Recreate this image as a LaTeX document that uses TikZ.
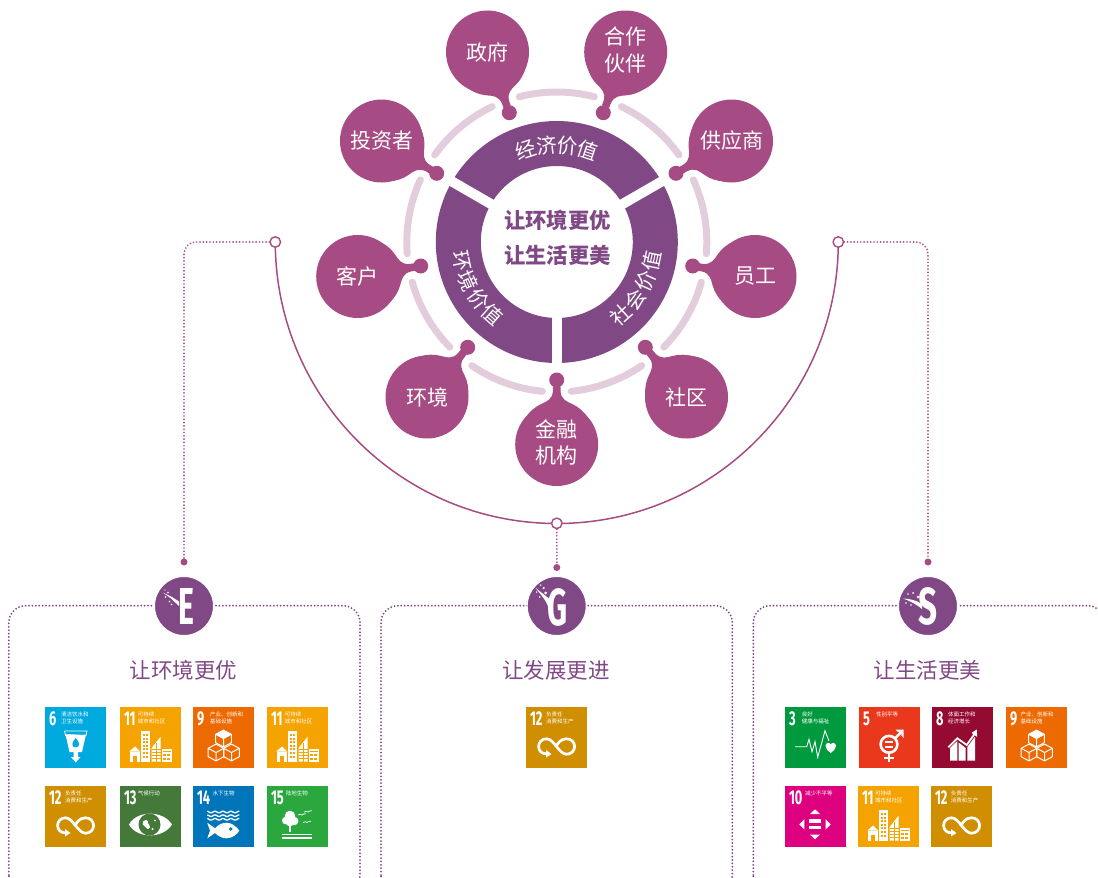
\documentclass[tikz,border=0pt]{standalone}
\usepackage{fontspec}
\setmainfont{Noto Sans CJK SC}
\newfontfamily\numfont{Fira Sans}
\usetikzlibrary{calc}
\definecolor{dropc}{HTML}{A64B83}
\definecolor{ringc}{HTML}{804885}
\definecolor{palec}{HTML}{E3CCDB}
\definecolor{tblue}{HTML}{00A9DE}
\definecolor{tamber}{HTML}{F5A300}
\definecolor{torange}{HTML}{ED6A02}
\definecolor{tgold}{HTML}{CF8F00}
\definecolor{tolive}{HTML}{44793A}
\definecolor{tsea}{HTML}{0075BA}
\definecolor{tgreen}{HTML}{2AA83E}
\definecolor{thealth}{HTML}{009A3E}
\definecolor{tred}{HTML}{E9381B}
\definecolor{twine}{HTML}{950A30}
\definecolor{tpink}{HTML}{DD007F}
\tikzset{
  dropnode/.style={circle,fill=dropc,minimum size=83pt,inner sep=0pt},
  droptext/.style={inner sep=0pt,text=white,align=center,font=\fontsize{21}{27}\selectfont},
  ballnode/.style={circle,fill=dropc,minimum size=15pt,inner sep=0pt},
  palearc/.style={draw=palec,line width=7pt,line cap=round},
  ringtext/.style={text=white,inner sep=0pt,font=\fontsize{20.5}{20}\selectfont},
  centertext/.style={text=ringc,inner sep=0pt,font=\fontsize{21.3}{21}\selectfont\bfseries},
  titletext/.style={text=ringc,inner sep=0pt,font=\fontsize{21.5}{22}\selectfont},
  opennode/.style={circle,draw=dropc,fill=white,line width=1.4pt,minimum size=10.5pt,inner sep=0pt},
  dotnode/.style={circle,fill=dropc,minimum size=7pt,inner sep=0pt},
  bigarc/.style={draw=dropc,line width=1.5pt},
  dotline/.style={draw=dropc,line width=1.9pt,line cap=round,dash pattern=on 0pt off 3.3pt},
  boxline/.style={draw=ringc,line width=2pt,line cap=round,dash pattern=on 0pt off 3.4pt,rounded corners=17pt},
  badge/.style={circle,fill=ringc,draw=white,line width=1pt,minimum size=59pt,inner sep=0pt,text=white},
  tilebox/.style={anchor=north west,minimum size=61pt,inner sep=0pt,outer sep=0pt},
  tilelabel/.style={anchor=north west,inner sep=0pt,text=white,align=left,font=\fontsize{5.5}{7.3}\selectfont},
  tilenum/.style={anchor=west,inner sep=0pt,text=white},
  ic/.style={fill=white,draw=none},
  icl/.style={draw=white,fill=none},
}
% tile: name, x, y, colour, number, label x, label, icon
\newcommand\tile[8]{%
  \node[tilebox,fill=#4] (#1) at (#2,#3) {};
  \begin{scope}[shift={(#2,#3)}]
    \node[tilenum] (#1num) at (3.8,11.6) {\scalebox{.64}[1]{\numfont\bfseries\fontsize{20}{20}\selectfont #5}};
    \node[tilelabel] (#1lab) at (#6,4.4) {#7};
    #8
  \end{scope}}
\newcommand\icwater[1]{%
  \draw[icl,line width=.8pt] (19.5,24) -- (42,24) -- (40.8,29);
  \draw[icl,line width=.8pt] (19.5,24) -- (20.7,29);
  \fill[ic] (20.5,27.5) .. controls (25,26.5) and (36,28.5) .. (41,27.5) -- (37,45) -- (33,45) -- (33,50) -- (35.5,50) -- (30.7,55.5) -- (26,50) -- (28.5,50) -- (28.5,45) -- (24.5,45) -- cycle;
  \fill[#1] (30.7,31) .. controls (28.5,34) and (27.3,35.5) .. (27.3,37.2) .. controls (27.3,41.5) and (34.1,41.5) .. (34.1,37.2) .. controls (34.1,35.5) and (33,34) .. (30.7,31) -- cycle;}
\newcommand\iccity[1]{%
  \fill[ic] (9.3,44.5) -- (15,39.5) -- (20.3,44.5) -- cycle;
  \fill[ic] (10,45.3) rectangle (20,54.7);
  \fill[#1] (13.3,49) rectangle (16.7,54.7);
  \fill[ic] (21,24) rectangle (30,54.7);
  \foreach \cx in {23,26.4}{\foreach \cy in {27,30.6,34.2,37.8,41.4,45,48.6}{\fill[#1] (\cx,\cy) rectangle ++(1.9,2);}}
  \fill[ic] (31.7,54.7) -- (31.7,41) -- (40.7,29.5) -- (40.7,54.7) -- cycle;
  \foreach \cy in {42,45,48,51}{\draw[#1,line width=.5pt] (31.7,\cy) -- (40.7,\cy);}
  \draw[#1,line width=.5pt] (36.2,36) -- (36.2,54.7);
  \fill[ic] (41.7,42) rectangle (51.7,54.7);
  \fill[#1] (42.7,44.3) rectangle (50.7,45);
  \foreach \cx in {43,47.3}{\foreach \cy in {46.5,50.5}{\fill[#1] (\cx,\cy) rectangle ++(3.1,2.6);}}}
\newcommand\oneCube[2]{%
  \draw[icl,line width=1pt,line join=round] (#1,#2-8.4) -- (#1+7.8,#2-4.2) -- (#1+7.8,#2+4.2) -- (#1,#2+8.4) -- (#1-7.8,#2+4.2) -- (#1-7.8,#2-4.2) -- cycle;
  \draw[icl,line width=1pt] (#1-7.8,#2-4.2) -- (#1,#2) -- (#1+7.8,#2-4.2) (#1,#2) -- (#1,#2+8.4);}
\newcommand\iccubes{%
  \oneCube{30.5}{31.5}\oneCube{23}{45.5}\oneCube{38.5}{45.5}
  \fill[ic] (30.5,23.1) -- (38.3,27.3) -- (30.5,31.5) -- (22.7,27.3) -- cycle;}
\newcommand\icloop{%
  \draw[icl,line width=2.7pt] (21,46.8) .. controls (16,47.2) and (12.6,44) .. (12.6,39.5) .. controls (12.6,35) and (16,31.8) .. (20.5,31.8) .. controls (28,31.8) and (33,47.2) .. (40.5,47.2) .. controls (45,47.2) and (48.6,44) .. (48.6,39.5) .. controls (48.6,35) and (45,31.8) .. (40.5,31.8) .. controls (34,31.8) and (31.5,37) .. (29.5,40.5);
  \fill[ic] (20,43) -- (25.5,47) -- (20,50.5) -- cycle;}
\newcommand\iceye[1]{%
  \fill[ic] (9,38.5) .. controls (17,24) and (43,24) .. (52,38.5) .. controls (43,53) and (17,53) .. cycle;
  \fill[#1] (29.5,38.5) circle[radius=11];
  \fill[ic] (23,35.5) .. controls (25.5,33) and (28.5,34) .. (28,37) .. controls (28,39) and (31,39) .. (30,41.5) .. controls (28.5,44) and (25.5,43) .. (25.5,41) .. controls (23,40) and (22,37.5) .. (23,35.5) -- cycle;
  \fill[ic] (32.5,43) circle[radius=1.2];
  \fill[ic] (35,34.5) circle[radius=.8];}
\newcommand\icfish[1]{%
  \foreach \wy in {26,29.7,33.3}{\draw[icl,line width=1.3pt] plot[domain=14.3:46.3,samples=41,smooth] (\x,{\wy+.8*sin(\x*45)});}
  \fill[ic] (14.3,36.7) -- (22,42.3) .. controls (26,38) and (30,36.7) .. (33.7,36.7) .. controls (39,36.7) and (44,41) .. (46.3,44.7) .. controls (44,48.5) and (39,52.3) .. (33.7,52.3) .. controls (30,52.3) and (26,51) .. (22,47) -- (14.3,52.3) -- (17,44.7) -- cycle;
  \fill[#1] (37.7,43) circle[radius=1.9];}
\newcommand\ictree{%
  \fill[ic] (23,30) circle[radius=5.3] (18.8,34.5) circle[radius=3.8] (27.3,35) circle[radius=4.2] (23,36) circle[radius=4.3];
  \fill[ic] (22.3,38) rectangle (24,45.8);
  \fill[ic] (15.3,47.8) rectangle (45.3,49.3);
  \fill[ic] (15.3,51) rectangle (45.3,52.5);
  \foreach \bx/\by in {35/29,41/26,40/36.5}{\draw[icl,line width=.7pt] (\bx-4,\by) .. controls (\bx-2,\by-1.5) and (\bx-1,\by-.5) .. (\bx,\by) .. controls (\bx+1,\by-1) and (\bx+2.5,\by-1.2) .. (\bx+4,\by-1.4);}}
\newcommand\icheart{%
  \draw[icl,line width=.9pt,line join=miter] (10,39.7) -- (21.7,39.7) -- (24,32.3) -- (27,44.7) -- (30,34.7) -- (32.7,50.3) -- (40,23.7) -- (44,34);
  \fill[ic] (45.7,46) .. controls (42,43) and (40.2,41) .. (40.5,38.5) .. controls (41,35.5) and (44.5,35) .. (45.7,37.5) .. controls (47,35) and (50.5,35.5) .. (51,38.5) .. controls (51.2,41) and (49.5,43) .. (45.7,46) -- cycle;}
\newcommand\icgender{%
  \draw[icl,line width=2.6pt] (30,37.3) circle[radius=8.4];
  \fill[ic] (25.6,33.7) rectangle (34.4,36);
  \fill[ic] (25.6,38.6) rectangle (34.4,40.9);
  \fill[ic] (28.7,46) rectangle (31.3,55);
  \fill[ic] (25,49.6) rectangle (35,52);
  \draw[icl,line width=2.4pt] (36,31.3) -- (42.5,24.8);
  \fill[ic] (36.5,22.7) -- (44.7,22.7) -- (44.7,31) -- (42.4,28.6) -- (42.4,25) -- (38.8,25) -- cycle;}
\newcommand\icgrowth[1]{%
  \fill[ic] (18,41) -- (25.3,34) -- (25.3,53.7) -- (18,53.7) -- cycle;
  \fill[ic] (26.6,35.5) -- (33.7,41) -- (33.7,53.7) -- (26.6,53.7) -- cycle;
  \fill[ic] (35.3,40) -- (43,29.5) -- (43,53.7) -- (35.3,53.7) -- cycle;
  \draw[#1,line width=2.6pt] (14,42) -- (25.3,31.3) -- (34.7,38) -- (45,24);
  \draw[icl,line width=1.8pt,line join=miter] (16.3,40.3) -- (25.3,31.3) -- (34.7,38) -- (42.5,27);
  \fill[ic] (44.8,22.5) -- (45.2,30) -- (39.5,25.8) -- cycle;}
\newcommand\icarrows{%
  \fill[ic] (30,23.3) -- (35,28) -- (25,28) -- cycle;
  \fill[ic] (30,53.3) -- (35,48.6) -- (25,48.6) -- cycle;
  \fill[ic] (14.3,38.3) -- (19.3,33.3) -- (19.3,43.3) -- cycle;
  \fill[ic] (45.7,38.3) -- (40.7,33.3) -- (40.7,43.3) -- cycle;
  \fill[ic] (24.3,33.3) rectangle (35.7,36.7);
  \fill[ic] (24.3,40) rectangle (35.7,43.3);}
\begin{document}
\begin{tikzpicture}[x=1pt,y=-1pt]
\useasboundingbox (0,0) rectangle (1098,878);
\clip (0,0) rectangle (1098,878);
\coordinate (c) at (556.8,242);
% pale arcs
\foreach \a in {-90,-130,-170,-210,-250,-290,-330,-370,-410}{
  \draw[palearc] ($(c)+(\a-14.5:150)$) arc[start angle=\a-14.5,end angle=\a+14.5,radius=150];
}
% ring
\fill[ringc,even odd rule] (c) circle[radius=121] (c) circle[radius=76];
\foreach \a in {90,210,-30}{\draw[white,line width=10pt] (c) -- ++(\a:125);}
\foreach \ch/\t [count=\i] in {经/108.45,济/96.15,价/83.85,值/71.55}{
  \node[ringtext,rotate=\t-90] (ea\i) at ($(c)+(-\t:97)$) {\ch};}
\foreach \ch/\t [count=\i] in {社/-48.5,会/-36.2,价/-23.8,值/-11.5}{
  \node[ringtext,rotate=\t+90] (so\i) at ($(c)+(-\t:97)$) {\ch};}
\foreach \ch/\t [count=\i] in {环/191.5,境/203.8,价/216.2,值/228.5}{
  \node[ringtext,rotate=\t+90] (en\i) at ($(c)+(-\t:97)$) {\ch};}
\node[centertext] (ct1) at (557.5,220.5) {让环境更优};
\node[centertext] (ct2) at (557.5,255.5) {让生活更美};
% drops: name, cx, cy, ballx, bally, text, text offset
\newcommand\drop[7]{%
  \pgfmathsetmacro\dang{atan2(-(#5-#3),#4-#2)}%
  \begin{scope}[shift={(#2,#3)},rotate=\dang]
    \fill[dropc] (27,31) .. controls (33,27) and (37.5,22) .. (40.5,15.5) .. controls (43,10) and (45,4.3) .. (53.5,3.8) -- (58,3.8) -- (58,-3.8) -- (53.5,-3.8) .. controls (45,-4.3) and (43,-10) .. (40.5,-15.5) .. controls (37.5,-22) and (33,-27) .. (27,-31) -- cycle;
  \end{scope}
  \node[ballnode] (#1b) at (#4,#5) {};
  \node[dropnode] (#1) at (#2,#3) {};
  \node[droptext] (#1t) at ($(#2,#3)+(0,#7)$) {#6};}
\drop{gov}{487.5}{52}{509.3}{112.7}{政府}{0}
\drop{par}{625.7}{52}{603.3}{112.7}{合作\\[-.6pt]伙伴}{-2.2}
\drop{inv}{381.5}{141}{436.7}{173.3}{投资者}{0}
\drop{sup}{731.5}{141}{676}{173.3}{供应商}{0}
\drop{cus}{357.7}{276.5}{420.7}{266}{客户}{0}
\drop{emp}{755}{276.5}{692.7}{266}{员工}{0}
\drop{env}{427}{397}{467.7}{347.3}{环境}{0}
\drop{com}{686.5}{397}{645.3}{347.3}{社区}{0}
\drop{fin}{556.7}{444.5}{556.7}{380}{金融\\[-.6pt]机构}{-2.2}
% big arc
\coordinate (al) at (275.3,242);
\draw[bigarc] (al) arc[start angle=180,end angle=0,radius=281.5];
\node[opennode] (ol) at (al) {};
\node[opennode] (or) at (838.3,242) {};
\node[opennode] (ob) at (556.8,523.3) {};
\node[dotnode] (de) at (184,562) {};
\node[dotnode] (dg) at (556.8,567.5) {};
\node[dotnode] (ds) at (928,562) {};
\draw[dotline,rounded corners=12pt] (ol.west) -| (de.north);
\draw[dotline,rounded corners=12pt] (or.east) -| (ds.north);
\draw[dotline] (ob.south) -- (dg.north);
% panels
\draw[boxline] (8.8,892) rectangle (360,605.7);
\draw[boxline] (381,892) rectangle (732.3,605.7);
\draw[boxline] (753.3,892) rectangle (1104.5,605.7);
% badges
\node[badge] (be) at (184,606) {};
\node[badge] (bg) at (556.7,606) {};
\node[badge] (bs) at (928,606) {};
\node[text=white,inner sep=0pt] (le) at (186.2,606.2) {\scalebox{.58}[1]{\numfont\bfseries\fontsize{52}{52}\selectfont E}};
\node[text=white,inner sep=0pt] (lg) at (558,607) {\scalebox{.6}[1]{\numfont\bfseries\fontsize{52}{52}\selectfont G}};
\node[text=white,inner sep=0pt] (ls) at (928,606) {\scalebox{.64}[1]{\numfont\bfseries\fontsize{52}{52}\selectfont S}};
\begin{scope}[shift={(184,606)}]
  \fill[white] (-5,-4.5) -- (-12,-9) -- (-21,-13.5) -- (-13,-7.5) -- (-5,0) -- cycle;
  \fill[white] (-18.5,-9) circle[radius=.9] (-16,-13.5) circle[radius=.9] (-14.5,-4.5) circle[radius=.9] (-12.5,-1.5) circle[radius=.9] (-19,-16) circle[radius=.7];
\end{scope}
\begin{scope}[shift={(556.7,606)}]
  \fill[white] (-8,3) .. controls (-9,-3) and (-13,-8) .. (-21,-18) .. controls (-14,-12) and (-7,-8) .. (-4,-3) -- cycle;
  \fill[white] (-13,-18) circle[radius=1.2] (-17,-9) circle[radius=.9] (-20,-14) circle[radius=.8] (-11,-13) circle[radius=1.5] (-16,-21) circle[radius=.8];
\end{scope}
\begin{scope}[shift={(928,606)}]
  \fill[white] (-6,-2) .. controls (-12,-6) and (-18,-7) .. (-25,-7.5) .. controls (-18,-5) and (-12,-2) .. (-6,3) -- cycle;
  \fill[white] (-15,-13) circle[radius=1] (-20,-12) circle[radius=.9] (-10,-9) circle[radius=1.4] (-22,-3) circle[radius=.8] (-17,-1) circle[radius=.9];
\end{scope}
% titles
\node[titletext] (te) at (183.5,670) {让环境更优};
\node[titletext] (tg) at (556,670) {让发展更进};
\node[titletext] (ts) at (927.6,670) {让生活更美};
% tiles
\tile{a1}{45}{707}{tblue}{6}{16}{清洁饮水和\\卫生设施}{\icwater{tblue}}
\tile{a2}{120}{707}{tamber}{11}{17.7}{可持续\\城市和社区}{\iccity{tamber}}
\tile{a3}{193}{707}{torange}{9}{17}{产业、创新和\\基础设施}{\iccubes}
\tile{a4}{267}{707}{tamber}{11}{17.7}{可持续\\城市和社区}{\iccity{tamber}}
\tile{a5}{45}{786}{tgold}{12}{20}{负责任\\消费和生产}{\icloop}
\tile{a6}{120}{786}{tolive}{13}{17.7}{气候行动}{\iceye{tolive}}
\tile{a7}{193}{786}{tsea}{14}{19.3}{水下生物}{\icfish{tsea}}
\tile{a8}{267}{786}{tgreen}{15}{18.7}{陆地生物}{\ictree}
\tile{b1}{526}{707}{tgold}{12}{20}{负责任\\消费和生产}{\icloop}
\tile{c1}{785}{707}{thealth}{3}{16.7}{良好\\健康与福祉}{\icheart}
\tile{c2}{859}{707}{tred}{5}{17}{性别平等}{\icgender}
\tile{c3}{932}{707}{twine}{8}{16}{体面工作和\\经济增长}{\icgrowth{twine}}
\tile{c4}{1006}{707}{torange}{9}{14.5}{产业、创新和\\基础设施}{\iccubes}
\tile{c5}{785}{786}{tpink}{10}{20}{减少不平等}{\icarrows}
\tile{c6}{858}{786}{tamber}{11}{17}{可持续\\城市和社区}{\iccity{tamber}}
\tile{c7}{931}{786}{tgold}{12}{19.7}{负责任\\消费和生产}{\icloop}
\end{tikzpicture}
\end{document}
